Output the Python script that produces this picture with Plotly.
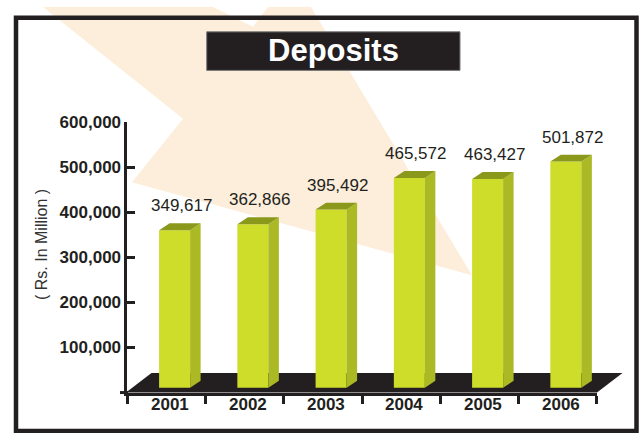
import plotly.graph_objects as go

# ---------------- data ----------------
years = ["2001", "2002", "2003", "2004", "2005", "2006"]
deposits = [349617, 362866, 395492, 465572, 463427, 501872]
value_labels = ["349,617", "362,866", "395,492", "465,572", "463,427", "501,872"]
y_tick_vals = [100000, 200000, 300000, 400000, 500000, 600000]
y_tick_text = ["100,000", "200,000", "300,000", "400,000", "500,000", "600,000"]
title_text = "Deposits"
y_title = "( Rs. In Million )"

# ---------------- layout geometry (pixels) ----------------
W, H = 639, 433
Y0_PX = 391.7            # pixel row of value 0
Y600_PX = 115.7          # pixel row of value 600,000
K = (Y0_PX - Y600_PX) / 600000.0   # px per value unit
XC0 = 166.6              # pixel column of first category centre
DX = 78.25               # px per category
DARK = "#231f20"
FRONT = "#cedc2a"
SIDE = "#aab924"
TOP = "#8a981c"
PEACH = "#fdeedb"
FONT = "Liberation Sans, Arial"


def px_x(px):
    return px / W


def px_y(py):
    return 1 - py / H


def ux(px):  # px -> category units
    return px / DX


def uy(px):  # px -> value units
    return px / K


fig = go.Figure()

# background arrow (decoration, in paper coords)
arrow_px = [(43, -2), (183, 112), (132, 177), (472, 272), (311, -2), (268, -2),
            (253, 18), (213, -2)]
path = "M " + " L ".join(f"{px_x(x):.5f},{px_y(y):.5f}" for x, y in arrow_px) + " Z"
shapes = [dict(type="path", xref="paper", yref="paper", path=path,
               fillcolor=PEACH, line=dict(width=0), layer="below")]

# floor (3D base) in data units
floor_dx, floor_dy = ux(25.5), uy(20)
fx0, fx1 = -0.5 - ux(1.5), len(years) - 0.5
fig.add_trace(go.Scatter(
    x=[fx0, fx1, fx1 + floor_dx, fx0 + floor_dx, fx0],
    y=[0, 0, floor_dy, floor_dy, 0],
    fill="toself", fillcolor=DARK, mode="lines", line=dict(width=0, color=DARK),
    hoverinfo="skip", showlegend=False, xaxis="x", yaxis="y"))

# bars
off, half = ux(8), ux(15.5)
ddx, ddy = ux(10.5), uy(7)
lift = uy(5)
for i, v in enumerate(deposits):
    x0, x1 = i + off - half, i + off + half
    yb, yt = lift, v + lift
    fig.add_trace(go.Scatter(x=[x0, x1, x1, x0, x0], y=[yb, yb, yt, yt, yb],
                             fill="toself", fillcolor=FRONT, mode="lines",
                             line=dict(width=0), hoverinfo="skip", showlegend=False))
    fig.add_trace(go.Scatter(x=[x1, x1 + ddx, x1 + ddx, x1, x1],
                             y=[yb, yb + ddy, yt + ddy, yt, yb],
                             fill="toself", fillcolor=SIDE, mode="lines",
                             line=dict(width=0), hoverinfo="skip", showlegend=False))
    fig.add_trace(go.Scatter(x=[x0, x1, x1 + ddx, x0 + ddx, x0],
                             y=[yt, yt, yt + ddy, yt + ddy, yt],
                             fill="toself", fillcolor=TOP, mode="lines",
                             line=dict(width=0), hoverinfo="skip", showlegend=False))

annotations = []
for i, v in enumerate(deposits):
    annotations.append(dict(x=i + off + ux(6.5), y=v + lift, xref="x", yref="y",
                            text=value_labels[i], showarrow=False, yanchor="bottom",
                            yshift=13, font=dict(family=FONT, size=17, color=DARK)))

# category labels under the axis
for i, yr in enumerate(years):
    annotations.append(dict(x=i + ux(3), y=px_y(404), xref="x", yref="paper",
                            text=f"<b>{yr}</b>", showarrow=False,
                            xanchor="center", yanchor="middle",
                            font=dict(family=FONT, size=17, color=DARK)))

# invisible trace to define category axis
fig.add_trace(go.Scatter(x=years, y=deposits, mode="markers", marker=dict(opacity=0),
                         hoverinfo="skip", showlegend=False, xaxis="x2", yaxis="y2"))

# frame and title box
shapes.append(dict(type="rect", xref="paper", yref="paper",
                   x0=px_x(16), x1=px_x(636.5), y0=px_y(9), y1=px_y(431),
                   line=dict(color=DARK, width=4.5), fillcolor="rgba(0,0,0,0)",
                   layer="above"))
shapes.append(dict(type="rect", xref="paper", yref="paper",
                   x0=px_x(206.7), x1=px_x(460), y0=px_y(23.3), y1=px_y(62.7),
                   line=dict(color="#7a7a7a", width=1), fillcolor=DARK, layer="above"))
annotations.append(dict(x=px_x(333), y=px_y(42), xref="paper", yref="paper",
                        text=f"<b>{title_text}</b>", showarrow=False,
                        xanchor="center", yanchor="middle",
                        font=dict(family=FONT, size=31, color="white")))
annotations.append(dict(x=px_x(42), y=px_y(241), xref="paper", yref="paper",
                        text=y_title, showarrow=False, textangle=-90,
                        xanchor="center", yanchor="middle",
                        font=dict(family=FONT, size=16, color="#333333")))

# zero-tick cross
shapes.append(dict(type="line", xref="paper", yref="paper",
                   x0=px_x(120), x1=px_x(128), y0=px_y(Y0_PX), y1=px_y(Y0_PX),
                   line=dict(color=DARK, width=3), layer="above"))

fig.update_layout(
    width=W, height=H, margin=dict(l=0, r=0, t=0, b=0),
    paper_bgcolor="white", plot_bgcolor="rgba(0,0,0,0)",
    xaxis=dict(domain=[0, 1], range=[-XC0 / DX, (W - XC0) / DX], visible=False,
               fixedrange=True),
    yaxis=dict(domain=[0, 1], range=[(Y0_PX - H) / K, Y0_PX / K], visible=False,
               fixedrange=True),
    xaxis2=dict(domain=[px_x(XC0 - DX / 2), px_x(XC0 + DX * (len(years) - 0.5))],
                type="category", range=[-0.5, len(years) - 0.5], anchor="y2",
                showline=True, linewidth=3, linecolor=DARK,
                ticks="outside", ticklen=8, tickwidth=3, tickcolor=DARK,
                tickson="boundaries", showgrid=False, zeroline=False,
                showticklabels=False, fixedrange=True),
    yaxis2=dict(domain=[px_y(Y0_PX), px_y(Y600_PX)], range=[0, 600000], anchor="x2",
                tickvals=y_tick_vals, ticktext=y_tick_text,
                showline=True, linewidth=3, linecolor=DARK,
                ticks="inside", ticklen=8, tickwidth=3, tickcolor=DARK,
                showgrid=False, zeroline=False,
                tickfont=dict(family=FONT, size=17, color=DARK, weight="bold"),
                fixedrange=True),
    shapes=shapes, annotations=annotations,
)

fig.write_html("out.html")
